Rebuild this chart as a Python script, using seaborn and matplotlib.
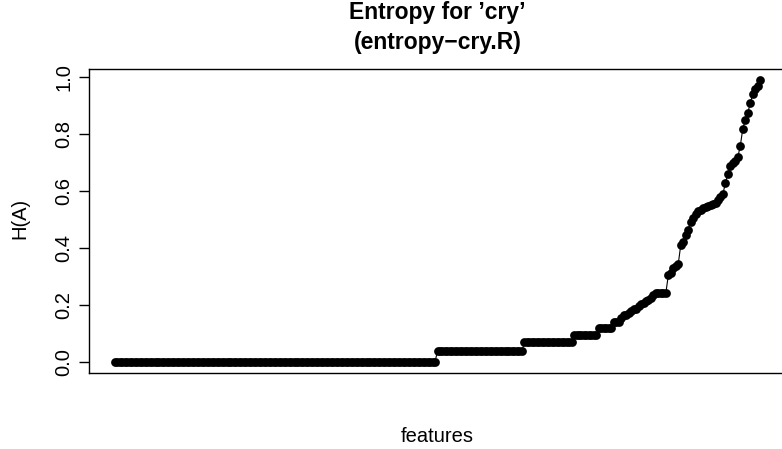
import numpy as np
import matplotlib
matplotlib.use("Agg")
import matplotlib.pyplot as plt
import seaborn as sns

# Sorted entropy values per feature: flat plateaus first, then the rising tail
level_values = [0.0, 0.037, 0.068, 0.095, 0.12]
level_counts = [130, 35, 20, 10, 6]
tail_values = [
    0.140, 0.140, 0.140, 0.155, 0.165, 0.165, 0.172, 0.180, 0.186, 0.186,
    0.196, 0.203, 0.207, 0.212, 0.218, 0.225, 0.236, 0.242, 0.242, 0.242,
    0.242, 0.242, 0.305, 0.312, 0.330, 0.335, 0.345, 0.410, 0.420, 0.445,
    0.465, 0.490, 0.505, 0.520, 0.530, 0.535, 0.540, 0.545, 0.548, 0.550,
    0.555, 0.560, 0.570, 0.580, 0.590, 0.630, 0.660, 0.690, 0.700, 0.705,
    0.720, 0.760, 0.820, 0.850, 0.875, 0.910, 0.940, 0.960, 0.970, 0.990,
]
y_ticks = [0.0, 0.2, 0.4, 0.6, 0.8, 1.0]
y_tick_labels = ["0.0", "0.2", "0.4", "0.6", "0.8", "1.0"]

entropy = np.concatenate([np.repeat(level_values, level_counts), tail_values])
features = np.arange(len(entropy))

sns.set_style("ticks")
plt.rcParams["font.family"] = ["Liberation Sans", "DejaVu Sans"]
plt.rcParams["text.color"] = "black"
plt.rcParams["ytick.color"] = "black"
plt.rcParams["ytick.labelcolor"] = "black"

W, H = 782, 449
fig = plt.figure(figsize=(W / 100, H / 100), dpi=100)
ax = fig.add_axes([89 / W, (H - 373) / H, (786 - 89) / W, (373 - 69) / H])

sns.lineplot(
    x=features, y=entropy, ax=ax, color="black", linewidth=0.8,
    marker="o", markersize=6.3, markeredgewidth=0, markerfacecolor="black",
)

# R-style 4% padding on both axes
n = len(entropy)
xpad = 0.04 * (n - 1)
ax.set_xlim(-xpad, n - 1 + xpad)
ypad = 0.04 * (entropy.max() - entropy.min())
ax.set_ylim(entropy.min() - ypad, entropy.max() + ypad)

ax.set_xticks([])
ax.set_yticks(y_ticks)
ax.set_yticklabels(y_tick_labels, rotation=90, va="center", fontsize=14.5,
                   color="black")
ax.tick_params(axis="y", length=7, width=1, direction="out", color="black", pad=4)
ax.set_xlabel("")
ax.set_ylabel("")
for side, s in ax.spines.items():
    s.set_visible(side != "right")
    s.set_color("black")
    s.set_linewidth(1)

cx = (89 + 786) / 2 / W
fig.text(cx, 1 - 13 / H, "Entropy for \u2019cry\u2019", ha="center", va="center",
         fontsize=16.5, fontweight="bold", color="black")
fig.text(cx, 1 - 42 / H, "(entropy\u2212cry.R)", ha="center", va="center",
         fontsize=16.5, fontweight="bold", color="black")
fig.text(cx, 1 - 437 / H, "features", ha="center", va="center", fontsize=14.5,
         color="black")
fig.text(20 / W, 1 - 218 / H, "H(A)", ha="center", va="center", rotation=90,
         fontsize=14.5, color="black")

fig.savefig("out.png", dpi=100)
